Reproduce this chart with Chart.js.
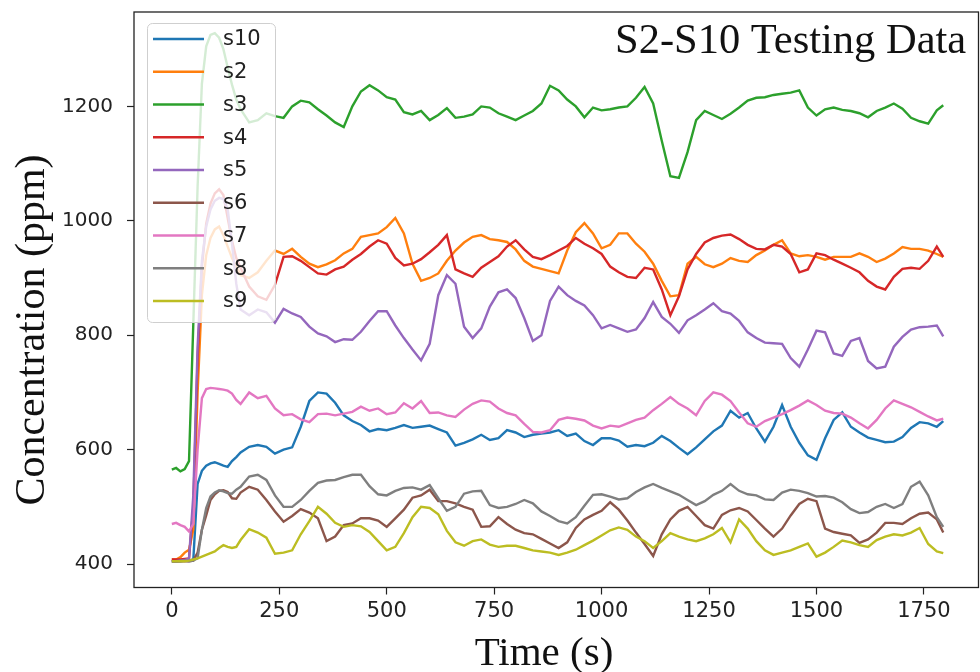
<!DOCTYPE html>
<html>
<head>
<meta charset="utf-8">
<script src="https://cdn.jsdelivr.net/npm/chart.js@4"></script>
<style>
  html, body { margin: 0; padding: 0; background: #fff; }
  #wrap { width: 980px; height: 672px; }
</style>
</head>
<body>
<div id="wrap"><canvas id="c" width="980" height="672"></canvas></div>
<script>
// Sample times (s)
const times = [0,10,20,30,40,50,60,70,80,90,100,110,120,130,140,150,160,
  180,200,220,240,260,280,300,320,340,360,
  380,400,420,440,460,480,500,520,540,560,
  580,600,620,640,660,680,700,720,740,760,
  780,800,820,840,860,880,900,920,940,960,
  980,1000,1020,1040,1060,1080,1100,1120,1140,1160,
  1180,1200,1220,1240,1260,1280,1300,1320,1340,1360,
  1380,1400,1420,1440,1460,1480,1500,1520,1540,1560,
  1580,1600,1620,1640,1660,1680,1700,1720,1740,1760,
  1780,1795];

const xTicks = [0, 250, 500, 750, 1000, 1250, 1500, 1750];
const yTicks = [400, 600, 800, 1000, 1200];

// Sensor concentrations (ppm)
const s10 = [405,405,405,406,406,408,540,563,572,576,578,575,572,570,580,587,595,
  605,608,605,593,600,604,640,685,700,698,
  682,660,650,643,632,636,634,638,643,638,
  640,642,636,630,607,612,618,626,617,620,
  634,630,622,626,628,630,634,624,628,615,
  608,620,620,616,605,608,606,612,624,615,
  603,592,604,618,632,642,668,656,664,637,
  614,640,678,640,612,590,582,620,652,665,
  640,630,621,617,613,614,622,638,648,646,
  640,650];

const s2 = [408,408,412,420,425,460,700,870,940,970,985,990,975,955,935,920,905,
  900,910,930,948,942,951,937,925,919,924,
  931,943,951,972,975,978,989,1005,978,925,
  895,900,908,930,948,962,972,975,968,966,
  963,950,930,920,916,912,908,948,980,996,
  978,952,958,978,978,960,946,925,895,868,
  870,925,937,924,919,925,935,930,928,940,
  948,958,966,943,938,940,937,932,937,937,
  937,943,937,928,934,943,954,951,951,948,
  942,937];

const s3 = [565,568,562,566,580,820,1060,1240,1305,1325,1328,1320,1300,1268,1238,1212,1195,
  1172,1176,1188,1183,1180,1200,1210,1207,1195,1184,
  1172,1164,1200,1226,1237,1228,1216,1212,1190,1186,
  1192,1176,1185,1197,1180,1182,1186,1200,1198,1188,
  1182,1176,1184,1192,1205,1236,1228,1212,1200,1181,
  1198,1193,1195,1198,1200,1215,1234,1205,1140,1078,
  1075,1120,1176,1192,1185,1178,1187,1198,1210,1215,
  1216,1220,1222,1224,1228,1198,1184,1195,1198,1194,
  1192,1188,1181,1192,1198,1205,1196,1180,1174,1170,
  1193,1202];

const s4 = [408,408,408,409,410,500,760,920,995,1030,1048,1055,1045,1005,965,935,918,
  885,868,862,888,937,938,930,919,908,906,
  915,920,932,942,955,966,960,935,922,925,
  933,945,958,975,915,908,902,918,928,938,
  955,966,950,937,933,940,948,956,970,960,
  952,942,920,910,902,900,918,915,880,835,
  868,915,942,962,970,974,976,968,958,951,
  950,958,955,942,910,915,943,940,932,925,
  918,910,895,885,880,902,916,918,916,930,
  955,937];

const s5 = [405,405,406,407,410,520,780,930,990,1020,1035,1040,1038,1020,960,890,845,
  835,845,840,822,846,838,832,815,803,798,
  788,793,792,806,825,842,842,817,795,775,
  756,785,870,905,890,815,795,812,850,875,
  880,865,830,790,800,860,885,870,860,852,
  835,812,818,812,806,810,830,858,832,820,
  804,826,835,845,856,842,838,825,805,795,
  787,786,785,760,745,775,808,805,768,764,
  790,795,755,742,745,780,797,810,814,815,
  817,798];

const s6 = [405,405,405,405,405,406,420,460,485,512,522,528,529,526,515,514,525,
  535,530,512,492,474,484,496,490,480,440,
  448,468,471,480,480,476,465,480,495,516,
  520,530,510,510,506,500,495,465,466,482,
  470,460,454,452,444,436,428,438,463,478,
  486,493,508,495,476,455,435,414,452,478,
  493,500,484,468,462,486,494,498,492,477,
  462,448,462,485,505,514,510,462,456,453,
  450,437,443,455,472,472,470,480,488,490,
  478,455];

const s7 = [470,472,468,465,457,470,600,690,706,708,707,706,705,703,698,687,680,
  700,690,694,672,660,662,653,648,662,663,
  660,663,666,675,668,672,662,665,681,672,
  685,664,665,660,657,670,680,686,684,672,
  664,660,645,631,630,634,652,656,654,651,
  642,637,642,640,646,652,656,669,680,692,
  680,672,660,685,700,696,685,665,646,640,
  650,656,662,669,677,686,678,668,664,663,
  656,646,637,652,672,686,680,674,666,658,
  651,654];

const s8 = [405,405,406,406,405,406,410,460,498,518,525,529,527,524,523,530,535,
  553,556,547,520,500,500,512,528,542,546,
  547,552,556,556,536,522,520,528,533,534,
  530,538,515,493,500,523,527,528,503,498,
  500,505,512,506,492,484,475,471,482,502,
  521,522,518,513,515,526,534,540,533,527,
  521,512,503,510,521,528,540,528,522,520,
  513,512,525,530,528,524,518,519,516,508,
  496,489,491,500,505,498,505,535,544,520,
  482,465];

const s9 = [405,405,405,405,406,408,410,413,416,419,422,428,433,430,428,430,442,
  461,455,446,418,420,424,452,475,500,488,
  472,465,468,466,456,440,424,430,454,482,
  500,498,487,458,438,432,440,443,434,430,
  432,432,428,424,422,420,416,420,425,433,
  441,450,459,464,460,448,440,428,440,454,
  448,443,440,445,452,463,438,478,462,440,
  424,416,420,424,430,436,413,420,430,441,
  438,433,430,442,448,452,450,455,463,435,
  422,419];

const seriesNames = ['s10', 's2', 's3', 's4', 's5', 's6', 's7', 's8', 's9'];
const seriesValues = [s10, s2, s3, s4, s5, s6, s7, s8, s9];
const seriesColors = ['#1f77b4', '#ff7f0e', '#2ca02c', '#d62728', '#9467bd',
                      '#8c564b', '#e377c2', '#7f7f7f', '#bcbd22'];

const INK = '#222222';
const SERIF = '"Liberation Serif", "Times New Roman", serif';
const SANS = '"DejaVu Sans", sans-serif';

const datasets = seriesNames.map((name, i) => ({
  label: name,
  data: times.map((t, k) => ({ x: t, y: seriesValues[i][k] })),
  borderColor: seriesColors[i],
  backgroundColor: seriesColors[i],
  borderWidth: 2.4,
  pointRadius: 0,
  tension: 0,
  fill: false,
  // later series are painted over earlier ones
  order: seriesNames.length - i
}));

// Legend box, frame and text labels
const decor = {
  id: 'decor',
  afterDatasetsDraw(chart) {
    const ctx = chart.ctx;
    ctx.save();
    ctx.beginPath();
    ctx.roundRect(147.5, 23.5, 128, 299, 5);
    ctx.fillStyle = 'rgba(255,255,255,0.8)';
    ctx.fill();
    ctx.strokeStyle = '#cfcfcf';
    ctx.lineWidth = 1;
    ctx.stroke();
    ctx.font = '21px ' + SANS;
    ctx.textBaseline = 'middle';
    ctx.textAlign = 'left';
    chart.data.datasets.forEach((ds, i) => {
      const y = 39 + 32.75 * i;
      ctx.beginPath();
      ctx.moveTo(153, y);
      ctx.lineTo(204, y);
      ctx.strokeStyle = ds.borderColor;
      ctx.lineWidth = 2.6;
      ctx.stroke();
      ctx.fillStyle = INK;
      ctx.fillText(ds.label, 223, y + 1);
    });
    ctx.restore();
  },
  afterDraw(chart) {
    const ctx = chart.ctx;
    const a = chart.chartArea;
    ctx.save();
    ctx.strokeStyle = INK;
    ctx.lineWidth = 1.3;
    ctx.strokeRect(a.left, a.top, a.right - a.left, a.bottom - a.top);

    ctx.fillStyle = '#111';
    ctx.font = '42.5px ' + SERIF;
    ctx.textBaseline = 'alphabetic';
    ctx.textAlign = 'left';
    ctx.fillText('S2-S10 Testing Data', 615, 53);

    ctx.font = '41px ' + SERIF;
    ctx.textAlign = 'center';
    ctx.fillText('Time (s)', 544, 665);

    ctx.translate(44, 330);
    ctx.rotate(-Math.PI / 2);
    ctx.font = '42px ' + SERIF;
    ctx.fillText('Concentration (ppm)', 0, 0);
    ctx.restore();
  }
};

new Chart(document.getElementById('c'), {
  type: 'line',
  data: { datasets },
  options: {
    responsive: false,
    animation: false,
    devicePixelRatio: 1,
    layout: { padding: { left: 0, right: 1.5, top: 12, bottom: 0 } },
    plugins: {
      legend: { display: false },
      tooltip: { enabled: false },
      title: { display: false }
    },
    scales: {
      x: {
        type: 'linear',
        min: -88,
        max: 1877,
        afterBuildTicks: s => { s.ticks = xTicks.map(v => ({ value: v })); },
        afterFit: s => { s.height = 84.5; s.paddingLeft = 0; s.paddingRight = 0; },
        grid: { display: true, drawOnChartArea: false, drawTicks: true,
                tickLength: 7, tickColor: INK, tickWidth: 1.2 },
        border: { display: false },
        ticks: { font: { family: SANS, size: 21 }, color: INK, padding: 4,
                 maxRotation: 0, autoSkip: false, callback: v => String(v) }
      },
      y: {
        type: 'linear',
        min: 359,
        max: 1365,
        afterBuildTicks: s => { s.ticks = yTicks.map(v => ({ value: v })); },
        afterFit: s => { s.width = 134; s.paddingTop = 0; s.paddingBottom = 0; },
        grid: { display: true, drawOnChartArea: false, drawTicks: true,
                tickLength: 7, tickColor: INK, tickWidth: 1.2 },
        border: { display: false },
        ticks: { font: { family: SANS, size: 20 }, color: INK, padding: 14,
                 autoSkip: false, callback: v => String(v) }
      }
    }
  },
  plugins: [decor]
});
</script>
</body>
</html>
